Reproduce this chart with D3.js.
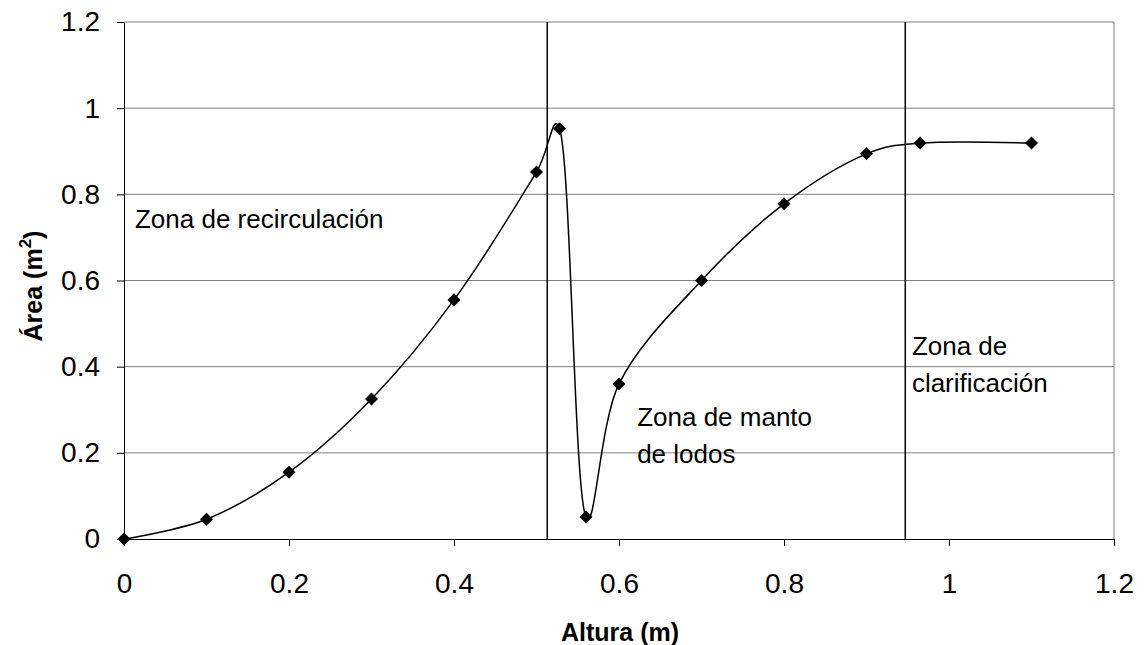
<!DOCTYPE html>
<html><head><meta charset="utf-8">
<script src="https://cdn.jsdelivr.net/npm/d3@7"></script>
<style>body{margin:0;background:#fff;} svg{display:block;font-family:"Liberation Sans",Arial,sans-serif;}</style>
</head><body>
<svg id="c" width="1146" height="645"></svg>
<script>
const altura = [0, 0.1, 0.2, 0.3, 0.4, 0.5, 0.528, 0.56, 0.6, 0.7, 0.8, 0.9, 0.965, 1.1];
const area = [0, 0.046, 0.155, 0.325, 0.555, 0.852, 0.952, 0.051, 0.36, 0.6, 0.778, 0.894, 0.919, 0.919];
const zoneLines = [0.513, 0.947];
const xTicks = [0, 0.2, 0.4, 0.6, 0.8, 1, 1.2];
const yTicks = [0, 0.2, 0.4, 0.6, 0.8, 1, 1.2];
const zoneLabels = [
  {x: 0.0133, y: 0.722, lines: ["Zona de recirculación"]},
  {x: 0.622, y: 0.262, lines: ["Zona de manto", "de lodos"]},
  {x: 0.955, y: 0.427, lines: ["Zona de", "clarificación"]}
];

const svg = d3.select("#c");
const L = 124, R = 1114, T = 22, B = 539;
const x = d3.scaleLinear().domain([0, 1.2]).range([L, R]);
const y = d3.scaleLinear().domain([0, 1.2]).range([B, T]);

// gridlines
svg.append("g").selectAll("line").data(yTicks.filter(d => d > 0)).join("line")
  .attr("x1", L).attr("x2", R).attr("y1", d => y(d)).attr("y2", d => y(d))
  .attr("stroke", "#808080").attr("stroke-width", 1);
svg.append("line").attr("x1", R).attr("x2", R).attr("y1", T).attr("y2", B).attr("stroke", "#808080");

// axes
const fmt = d => String(d);
const xa = svg.append("g").attr("transform", `translate(0,${B})`)
  .call(d3.axisBottom(x).tickValues(xTicks).tickFormat(fmt).tickSizeOuter(0).tickSize(7).tickPadding(27));
const ya = svg.append("g").attr("transform", `translate(${L},0)`)
  .call(d3.axisLeft(y).tickValues(yTicks).tickFormat(fmt).tickSizeOuter(0).tickSize(7).tickPadding(17));
[xa, ya].forEach(a => {
  a.attr("font-size", 28).attr("font-family", "Liberation Sans, Arial, sans-serif");
  a.selectAll("path,line").attr("stroke", "#000").attr("stroke-width", 1);
  a.selectAll("text").attr("fill", "#000");
});

// zone lines
svg.append("g").selectAll("line").data(zoneLines).join("line")
  .attr("x1", d => x(d)).attr("x2", d => x(d)).attr("y1", T).attr("y2", B)
  .attr("stroke", "#000").attr("stroke-width", 1.5);

// curve
const pts = altura.map((a, i) => [a, area[i]]);
svg.append("path").datum(pts)
  .attr("d", d3.line().x(d => x(d[0])).y(d => y(d[1])).curve(d3.curveCatmullRom.alpha(0.25)))
  .attr("fill", "none").attr("stroke", "#000").attr("stroke-width", 1.5);

// markers
svg.append("g").selectAll("path").data(pts).join("path")
  .attr("transform", d => `translate(${x(d[0])},${y(d[1])}) rotate(45)`)
  .attr("d", d3.symbol().type(d3.symbolSquare).size(85))
  .attr("fill", "#000");

// labels
zoneLabels.forEach(z => {
  const t = svg.append("text").attr("x", x(z.x)).attr("y", y(z.y)).attr("font-size", 26).attr("fill", "#000");
  z.lines.forEach((ln, i) => t.append("tspan").attr("x", x(z.x)).attr("dy", i === 0 ? 0 : 37).text(ln));
});

// axis titles
svg.append("text").attr("x", 620).attr("y", 641).attr("text-anchor", "middle")
  .attr("font-size", 25).attr("font-weight", "bold").text("Altura (m)");
const yt = svg.append("text").attr("transform", `translate(42,${286}) rotate(-90)`)
  .attr("text-anchor", "middle").attr("font-size", 25).attr("font-weight", "bold");
yt.append("tspan").text("Área (m");
yt.append("tspan").attr("dy", -11).attr("font-size", 17).text("2");
yt.append("tspan").attr("dy", 11).text(")");
</script>
</body></html>
